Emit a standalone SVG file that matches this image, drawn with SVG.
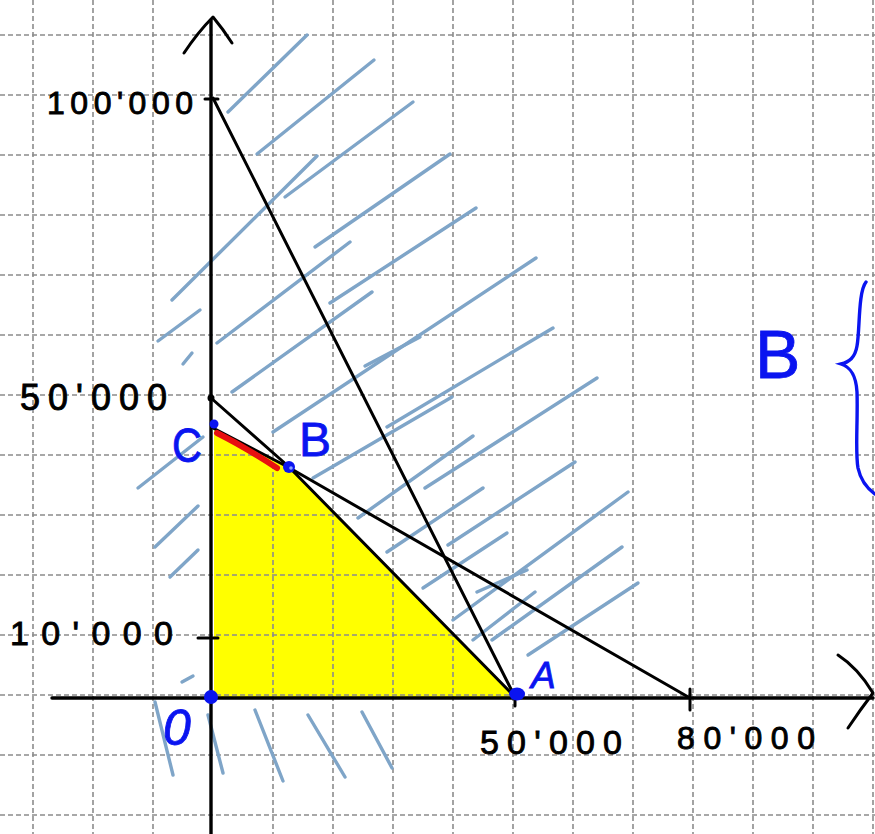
<svg xmlns="http://www.w3.org/2000/svg" width="875" height="834" viewBox="0 0 875 834">
<defs>
<style>
.grid line{stroke:#8c8c8c;stroke-width:1.6;stroke-dasharray:5 3;}
.hatch line{stroke:#7fa5c8;stroke-width:3.4;stroke-linecap:round;}
.ink{stroke:#000;stroke-width:3;fill:none;stroke-linecap:round;stroke-linejoin:round;}
.lbl{font-family:"Liberation Sans",Arial,sans-serif;fill:#000;stroke:#000;stroke-width:0.9;}
.blue{font-family:"Liberation Sans",Arial,sans-serif;fill:#0a14f0;stroke:#0a14f0;stroke-width:0.8;}
</style>
</defs>
<rect width="875" height="834" fill="#fff"/>
<g id="feasible-region">
<polygon points="214,430 288,467 515,697 214,697" fill="#ffff00"/>
</g>
<g id="grid" class="grid">
<line x1="33" y1="0" x2="33" y2="834"/><line x1="93" y1="0" x2="93" y2="834"/><line x1="153" y1="0" x2="153" y2="834"/><line x1="273" y1="0" x2="273" y2="834"/><line x1="333" y1="0" x2="333" y2="834"/><line x1="393" y1="0" x2="393" y2="834"/><line x1="453" y1="0" x2="453" y2="834"/><line x1="513" y1="0" x2="513" y2="834"/><line x1="573" y1="0" x2="573" y2="834"/><line x1="633" y1="0" x2="633" y2="834"/><line x1="693" y1="0" x2="693" y2="834"/><line x1="753" y1="0" x2="753" y2="834"/><line x1="813" y1="0" x2="813" y2="834"/><line x1="873" y1="0" x2="873" y2="834"/>
<line x1="0" y1="35" x2="875" y2="35"/><line x1="0" y1="95" x2="875" y2="95"/><line x1="0" y1="155" x2="875" y2="155"/><line x1="0" y1="215" x2="875" y2="215"/><line x1="0" y1="275" x2="875" y2="275"/><line x1="0" y1="335" x2="875" y2="335"/><line x1="0" y1="395" x2="875" y2="395"/><line x1="0" y1="455" x2="875" y2="455"/><line x1="0" y1="515" x2="875" y2="515"/><line x1="0" y1="575" x2="875" y2="575"/><line x1="0" y1="635" x2="875" y2="635"/><line x1="0" y1="695" x2="875" y2="695"/><line x1="0" y1="755" x2="875" y2="755"/><line x1="0" y1="815" x2="875" y2="815"/>
</g>
<g id="hatching" class="hatch">
<line x1="228" y1="112" x2="307" y2="35"/>
<line x1="257" y1="154" x2="374" y2="60"/>
<line x1="285" y1="197" x2="413" y2="102"/>
<line x1="172" y1="300" x2="317" y2="156"/>
<line x1="315" y1="247" x2="450" y2="154"/>
<line x1="217" y1="343" x2="350" y2="242"/>
<line x1="330" y1="303" x2="476" y2="208"/>
<line x1="232" y1="392" x2="372" y2="292"/>
<line x1="273" y1="432" x2="536" y2="258"/>
<line x1="365" y1="366" x2="420" y2="337"/>
<line x1="313" y1="478" x2="452" y2="397"/>
<line x1="387" y1="427" x2="553" y2="328"/>
<line x1="358" y1="518" x2="473" y2="436"/>
<line x1="425" y1="488" x2="597" y2="378"/>
<line x1="448" y1="545" x2="575" y2="462"/>
<line x1="387" y1="552" x2="483" y2="488"/>
<line x1="423" y1="588" x2="507" y2="533"/>
<line x1="477" y1="592" x2="527" y2="570"/>
<line x1="453" y1="620" x2="628" y2="492"/>
<line x1="473" y1="640" x2="535" y2="592"/>
<line x1="492" y1="640" x2="622" y2="547"/>
<line x1="528" y1="655" x2="638" y2="583"/>
<line x1="138" y1="488" x2="203" y2="437"/>
<line x1="155" y1="547" x2="198" y2="506"/>
<line x1="170" y1="577" x2="198" y2="550"/>
<line x1="182" y1="682" x2="193" y2="676"/>
<line x1="158" y1="341" x2="200" y2="310"/>
<line x1="183" y1="364" x2="192" y2="353"/>
<line x1="155" y1="702" x2="173" y2="775"/>
<line x1="208" y1="715" x2="223" y2="773"/>
<line x1="255" y1="710" x2="283" y2="781"/>
<line x1="308" y1="715" x2="345" y2="777"/>
<line x1="362" y1="712" x2="392" y2="768"/>
</g>
<g id="axes">
<line class="ink" x1="211" y1="20" x2="211" y2="834" style="stroke-width:3.4"/>
<line class="ink" x1="52" y1="698" x2="873" y2="698" style="stroke-width:3.4"/>
<path class="ink" d="M184,53 Q198,32 213,17 Q223,29 232,43"/>
<path class="ink" d="M838,655 Q858,668 873,693 Q860,710 848,728"/>
<line class="ink" x1="205" y1="99" x2="218" y2="99"/>
<line class="ink" x1="198" y1="638" x2="218" y2="638"/>
<line class="ink" x1="690" y1="689" x2="690" y2="710"/>
<line class="ink" x1="515" y1="698" x2="515" y2="706"/>
</g>
<g id="connectors">
<polyline class="ink" points="213,98 515,697"/>
<polyline class="ink" points="211,398 288,466 515,697"/>
<polyline class="ink" points="213,428 288,467 690,698"/>
<path d="M217,433 Q245,447 277,468" stroke="#e81010" stroke-width="6" fill="none" stroke-linecap="round"/>
</g>
<g id="points">
<circle cx="211" cy="398" r="3.5" fill="#000"/>
<circle cx="211" cy="697" r="7" fill="#0a14f0"/>
<ellipse cx="517" cy="694" rx="8" ry="6.5" fill="#0a14f0"/>
<circle cx="214" cy="424" r="4.5" fill="#0a14f0"/>
<circle cx="289" cy="467" r="6" fill="#0a14f0"/>
<circle cx="291" cy="468" r="1.8" fill="#8aa0ff"/>
</g>
<g id="labels">
<text class="lbl" x="47" y="114" font-size="32" textLength="146" lengthAdjust="spacing">100'000</text>
<text class="lbl" x="20" y="410" font-size="36" textLength="147" lengthAdjust="spacing">50'000</text>
<text class="lbl" x="10" y="645" font-size="34" textLength="163" lengthAdjust="spacing">10'000</text>
<text class="lbl" x="480" y="754" font-size="34" textLength="142" lengthAdjust="spacing">50'000</text>
<text class="lbl" x="677" y="749" font-size="32" textLength="138" lengthAdjust="spacing">80'000</text>
<text class="blue" x="172" y="462" font-size="48" textLength="30" lengthAdjust="spacingAndGlyphs">C</text>
<text class="blue" x="299" y="456" font-size="48" textLength="32" lengthAdjust="spacingAndGlyphs">B</text>
<text class="blue" x="531" y="688" font-size="37" font-style="italic">A</text>
<text class="blue" x="163" y="745" font-size="50" font-style="italic">0</text>
<text class="blue" x="755" y="378" font-size="68">B</text>
<path d="M866,282 C858,292 860,330 857,346 C855,358 849,362 841,364 C850,367 856,374 857,392 C858,420 855,452 858,468 C861,482 868,489 875,494" stroke="#0a14f0" stroke-width="3.4" fill="none" stroke-linecap="round"/>
</g>
</svg>
